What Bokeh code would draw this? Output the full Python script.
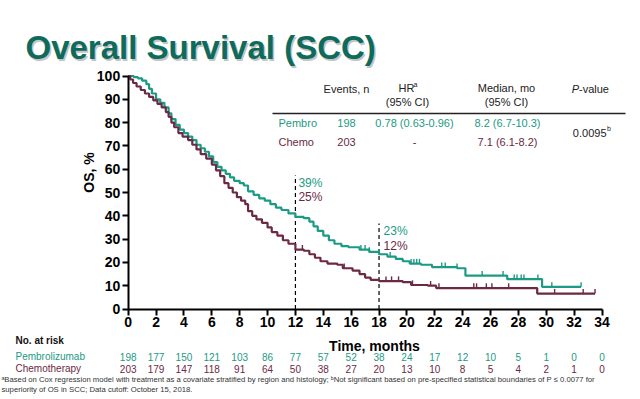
import numpy as np
from bokeh.plotting import figure
from bokeh.models import Range1d, Label, LabelSet, ColumnDataSource, FixedTicker
from bokeh.core.properties import value
from bokeh.embed import file_html
from bokeh.resources import INLINE

TEAL = "#1b9a84"
MAROON = "#6b2944"
TITLE_COLOR = "#0e6b5b"
FONT = "Liberation Sans"

# ---------------- data ----------------
pembro_t = [0, 0.4, 0.7, 1.0, 1.3, 1.5, 1.7, 2.0, 2.3, 2.6, 2.9, 3.1, 3.4, 3.7, 4.0, 4.3, 4.6,
            4.9, 5.2, 5.5, 5.8, 6.1, 6.4, 6.7, 7.0, 7.3, 7.6, 8.0, 8.3, 8.6, 9.0, 9.4, 9.8,
            10.2, 10.6, 11.0, 11.5, 12.0, 12.6, 13.0, 13.3, 13.6, 14.0, 14.4, 14.8, 15.3,
            15.8, 16.6, 17.3, 18.0, 18.6, 19.2, 19.7, 20.2, 21.0, 21.8, 23.6, 24.2, 27.2,
            29.7, 32.5]
pembro_s = [100, 99.5, 99, 98, 96.5, 94.5, 92.5, 90, 88.5, 86.5, 84, 81.5, 79, 77, 75.5, 74,
            72.5, 70.5, 69, 67.5, 65.5, 63, 61, 59.5, 58, 56.5, 55, 54, 53, 50.5, 49, 47.5,
            46.5, 45, 43.5, 42.5, 41, 39.5, 39, 37.5, 35.5, 33.5, 31.5, 29.5, 28, 27, 26.5,
            25.5, 24.5, 23.5, 22.5, 21.5, 20.5, 19.5, 19, 18, 17.5, 14.3, 12.8, 9.5, 9.5]

chemo_t = [0, 0.15, 0.35, 0.6, 0.9, 1.2, 1.5, 1.8, 2.1, 2.4, 2.7, 2.9, 3.1, 3.3, 3.6, 3.9,
           4.3, 4.6, 4.9, 5.2, 5.6, 6.0, 6.3, 6.6, 6.9, 7.2, 7.5, 7.8, 8.1, 8.4, 8.6, 8.9,
           9.2, 9.6, 10.0, 10.3, 10.7, 11.1, 11.5, 12.0, 12.6, 13.0, 13.4, 13.8, 14.3, 15.0,
           15.4, 16.1, 16.6, 17.0, 17.4, 18.0, 19.7, 20.3, 21.5, 22.1, 29.35, 33.5]
chemo_s = [100, 98.5, 97, 95.5, 94, 92.5, 91, 89.5, 88, 86.5, 84.5, 82.5, 80, 78, 75.5, 74,
           72.5, 70.5, 68.5, 66.5, 64.5, 62, 59.5, 57, 54, 52, 50, 48, 46.5, 45, 42, 40,
           38.5, 37, 35, 33, 31.5, 29.5, 28, 25.5, 25, 23.5, 22, 20.5, 19.5, 19, 17.5, 16.5,
           15, 13.5, 12.5, 12, 11.5, 10.3, 10, 9, 6.6, 6.6]

pembro_censor = [16.7, 17.0, 17.3, 18.0, 18.8, 20.3, 20.5, 20.7, 20.9, 22.5, 22.75, 23.6,
                 25.4, 26.9, 27.7, 27.9, 28.2, 28.4, 29.4, 30.4, 32.5]
chemo_censor = [12.5, 15.5, 18.5, 18.9, 19.4, 20.4, 21.7, 22.3, 24.8, 25.0, 25.7, 26.1,
                27.3, 30.6, 32.65, 33.5]

x_ticks = list(range(0, 35, 2))
y_ticks = list(range(0, 101, 10))
risk_months = list(range(0, 35, 2))
risk_pembro = [198, 177, 150, 121, 103, 86, 77, 57, 52, 38, 24, 17, 12, 10, 5, 1, 0, 0]
risk_chemo = [203, 179, 147, 118, 91, 64, 50, 38, 27, 20, 13, 10, 8, 5, 4, 2, 1, 0]

landmark_months = [12, 18]
landmark_pembro = ["39%", "23%"]
landmark_chemo = ["25%", "12%"]

table_groups = ["Pembro", "Chemo"]
table_events = ["198", "203"]
table_hr = ["0.78 (0.63-0.96)", "-"]
table_median = ["8.2 (6.7-10.3)", "7.1 (6.1-8.2)"]
table_p = "0.0095"

# ---------------- layout ----------------
W, H = 640, 399
X0_PX, PX_PER_MONTH = 127.7, (601.5 - 127.7) / 34   # where month 0 sits, scale
Y0_PX, PX_PER_PCT = 308.5, 2.33                      # where 0 % sits, scale


def fx(wx):
    """page pixel x -> months"""
    return (wx - X0_PX) / PX_PER_MONTH


def fy(wy):
    """page pixel y -> %"""
    return (Y0_PX - wy) / PX_PER_PCT


p = figure(width=W, height=H, x_range=Range1d(fx(0), fx(W)), y_range=Range1d(fy(H), fy(0)),
           output_backend="svg", toolbar_location=None,
           min_border_left=0, min_border_right=0, min_border_top=0, min_border_bottom=0)
p.outline_line_color = None
p.grid.visible = False
p.background_fill_color = "white"

for ax in (p.xaxis[0], p.yaxis[0]):
    ax.fixed_location = 0
    ax.axis_line_width = 2
    ax.axis_line_color = "black"
    ax.major_tick_line_width = 2
    ax.major_tick_line_color = "black"
    ax.major_tick_out = 6
    ax.major_tick_in = 0
    ax.minor_tick_line_color = None
    ax.major_label_text_font = FONT
    ax.major_label_text_font_style = "bold"
    ax.major_label_text_font_size = "14px"
    ax.major_label_text_color = "black"
p.xaxis.ticker = FixedTicker(ticks=x_ticks)
p.yaxis.ticker = FixedTicker(ticks=y_ticks)
p.xaxis.bounds = (0, 34)
p.yaxis.bounds = (0, 100)
p.xaxis.major_label_standoff = 2
p.yaxis.major_label_standoff = 2

# landmark dashed lines
p.segment(x0=landmark_months, y0=[0, 0], x1=landmark_months, y1=[fy(175), fy(223)],
          line_color="black", line_width=1.2, line_dash="4 3")

# curves
p.step(pembro_t, pembro_s, mode="after", line_color=TEAL, line_width=2.2)
p.step(chemo_t, chemo_s, mode="after", line_color=MAROON, line_width=2.2)


def surv_at(ts, ss, c):
    i = np.searchsorted(np.array(ts), np.array(c), side="right") - 1
    return np.array(ss)[i]


for ts, ss, cs, col in ((pembro_t, pembro_s, pembro_censor, TEAL),
                        (chemo_t, chemo_s, chemo_censor, MAROON)):
    sv = surv_at(ts, ss, cs)
    p.segment(x0=cs, y0=sv, x1=cs, y1=sv + 2.0, line_color=col, line_width=1.4)


def lab(wx, wy, text, color="#222222", size="11px", align="center", style="normal",
        baseline="middle", angle=0.0):
    p.add_layout(Label(x=fx(wx), y=fy(wy), text=text, text_color=color, text_font=FONT,
                       text_font_size=size, text_align=align, text_baseline=baseline,
                       text_font_style=style, angle=angle))


# axis titles
lab(374, 345, "Time, months", color="black", size="14px", style="bold")
lab(88, 172, "OS, %", color="black", size="14px", style="bold", angle=np.pi / 2)

# landmark labels
for k, (wy1, wy2, dx) in enumerate(((182, 196, 3), (230, 245, 4.5))):
    wx = X0_PX + landmark_months[k] * PX_PER_MONTH + dx
    lab(wx, wy1, landmark_pembro[k], color=TEAL, size="12px", align="left")
    lab(wx, wy2, landmark_chemo[k], color=MAROON, size="12px", align="left")

# table
p.segment(x0=[fx(272)], y0=[fy(113)], x1=[fx(625)], y1=[fy(113)], line_color="#222222",
          line_width=1.5)
lab(346, 88, "Events, n")
lab(406, 87, "HR")
lab(413, 84, "a", size="7px", align="left")
lab(407, 101, "(95% CI)")
lab(506, 87, "Median, mo")
lab(506, 101, "(95% CI)")
lab(578.5, 88, "P", style="italic", align="right")
lab(578.5, 88, "-value", align="left")

row_y = [122, 141]
row_col = [TEAL, MAROON]
for i in range(2):
    lab(278, row_y[i], table_groups[i], color=row_col[i], align="left")
    lab(346, row_y[i], table_events[i], color=row_col[i])
    lab(414, row_y[i], table_hr[i], color=row_col[i])
    lab(507, row_y[i], table_median[i], color=row_col[i])
lab(606, 132, table_p, align="right")
lab(606.5, 128, "b", size="7px", align="left")

# title with shadow
lab(26.5, 48.5, "Overall Survival (SCC)", color="#c4c4c4", size="33px", align="left",
    style="bold", baseline="alphabetic")
lab(25, 47, "Overall Survival (SCC)", color=TITLE_COLOR, size="33px", align="left",
    style="bold", baseline="alphabetic")

# number at risk
lab(15, 340, "No. at risk", color="#111111", size="10px", align="left", style="bold")
lab(15, 356, "Pembrolizumab", color=TEAL, size="10px", align="left")
lab(15, 368, "Chemotherapy", color=MAROON, size="10px", align="left")
src = ColumnDataSource(dict(x=risk_months,
                            yp=[fy(356)] * len(risk_months),
                            yc=[fy(368)] * len(risk_months),
                            tp=[str(v) for v in risk_pembro],
                            tc=[str(v) for v in risk_chemo]))
p.add_layout(LabelSet(x="x", y="yp", text="tp", source=src, text_color=TEAL,
                      text_font=value(FONT), text_font_size="10px", text_align="center",
                      text_baseline="middle"))
p.add_layout(LabelSet(x="x", y="yc", text="tc", source=src, text_color=MAROON,
                      text_font=value(FONT), text_font_size="10px", text_align="center",
                      text_baseline="middle"))

# footnotes
lab(1, 379, "\u1d43Based on Cox regression model with treatment as a covariate stratified by region and "
            "histology; \u1d47Not significant based on pre-specified statistical boundaries of P \u2264 0.0077 for",
    color="#333333", size="7.7px", align="left")
lab(1, 388.5, "superiority of OS in SCC; Data cutoff: October 15, 2018.",
    color="#333333", size="7.7px", align="left")

open("out.html", "w").write(file_html(p, INLINE))
